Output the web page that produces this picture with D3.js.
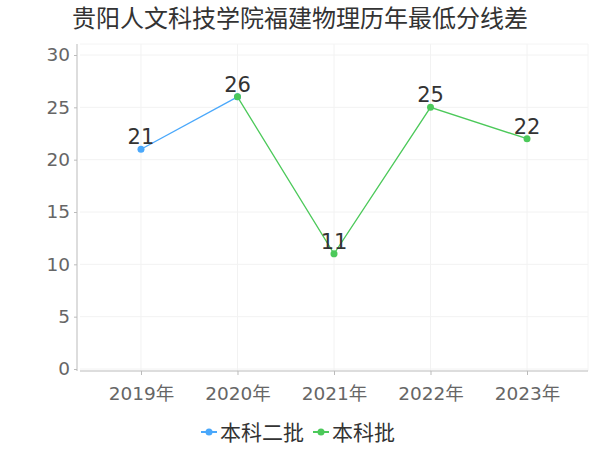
<!DOCTYPE html>
<html><head><meta charset="utf-8">
<script src="https://cdn.jsdelivr.net/npm/d3@7/dist/d3.min.js"></script>
<style>body{margin:0;background:#fff}svg{display:block}text{font-family:"DejaVu Sans","Noto Sans CJK SC",sans-serif}</style>
</head><body><svg id="c" width="600" height="450"></svg>
<script>
const title = "贵阳人文科技学院福建物理历年最低分线差";
const categories = ["2019年","2020年","2021年","2022年","2023年"];
const seriesNames = ["本科二批","本科批"];
const seriesColors = ["#4aa8fb","#4cc95a"];
const series1 = [21,26,null,null,null];
const series2 = [null,26,11,25,22];
const yTicks = [0,5,10,15,20,25,30];

const svg = d3.select("#c");
const L=80,R=588,T=44,B=371;
const x = d3.scalePoint().domain(categories).range([L,R]).padding(0.632);
const y = d3.scaleLinear().domain([0,30]).range([369,55]);

// grid
const g = svg.append("g");
g.selectAll(".hg").data(yTicks).join("line")
 .attr("x1",L).attr("x2",R).attr("y1",d=>y(d)).attr("y2",d=>y(d))
 .attr("stroke","#f2f2f2");
g.selectAll(".vg").data(categories).join("line")
 .attr("x1",d=>x(d)).attr("x2",d=>x(d)).attr("y1",T).attr("y2",B)
 .attr("stroke","#f2f2f2");
g.append("line").attr("x1",L).attr("x2",R).attr("y1",T).attr("y2",T).attr("stroke","#f4f4f4");
g.append("line").attr("x1",R).attr("x2",R).attr("y1",T).attr("y2",B).attr("stroke","#f4f4f4");

// axes
const xa = svg.append("g").attr("transform",`translate(0,${B})`)
 .call(d3.axisBottom(x).tickSize(4).tickPadding(8));
xa.select(".domain").attr("stroke","#bbb").attr("d",`M${L},0H${R}`);
xa.selectAll(".tick line").attr("stroke","#bbb");
xa.selectAll(".tick text").attr("fill","#666").style("font-size","18.5px").attr("dy","0.9em");

const ya = svg.append("g").attr("transform",`translate(77,0)`)
 .call(d3.axisLeft(y).tickValues(yTicks).tickSize(3).tickPadding(4));
ya.select(".domain").attr("stroke","#bbb").attr("d",`M0,${T}V${B}`);
ya.selectAll(".tick line").attr("stroke","#bbb");
ya.selectAll(".tick text").attr("fill","#666").style("font-size","18.5px");

// lines
[series1,series2].forEach((s,i)=>{
  const pts = categories.map((c,j)=>({c,v:s[j]})).filter(d=>d.v!=null);
  svg.append("path").datum(pts)
   .attr("d",d3.line().x(d=>x(d.c)).y(d=>y(d.v)))
   .attr("fill","none").attr("stroke",seriesColors[i]).attr("stroke-width",1.3);
});
[series1,series2].forEach((s,i)=>{
  const pts = categories.map((c,j)=>({c,v:s[j]})).filter(d=>d.v!=null);
  svg.append("g").selectAll("circle").data(pts).join("circle")
   .attr("cx",d=>x(d.c)).attr("cy",d=>y(d.v)).attr("r",3.5).attr("fill",seriesColors[i]);
});
// labels (one per category)
const labels = categories.map((c,j)=>({c,v: series2[j]!=null?series2[j]:series1[j]}));
svg.append("g").selectAll("text").data(labels).join("text")
 .attr("x",d=>x(d.c)).attr("y",d=>y(d.v)-5)
 .attr("text-anchor","middle").attr("fill","#333").style("font-size","21px")
 .text(d=>d.v);

// title
svg.append("text").attr("x",300).attr("y",27).attr("text-anchor","middle")
 .attr("fill","#333").style("font-size","24px").text(title);

// legend
const lg = svg.append("g");
const items = [{x:201},{x:313}];
seriesNames.forEach((n,i)=>{
  const gx = items[i].x, gy = 432;
  lg.append("line").attr("x1",gx).attr("x2",gx+16).attr("y1",gy).attr("y2",gy)
   .attr("stroke",seriesColors[i]).attr("stroke-width",2);
  lg.append("circle").attr("cx",gx+8).attr("cy",gy).attr("r",3.5).attr("fill",seriesColors[i]);
  lg.append("text").attr("x",gx+19).attr("y",gy).attr("dy","0.36em")
   .attr("fill","#333").style("font-size","21px").text(n);
});
</script></body></html>
